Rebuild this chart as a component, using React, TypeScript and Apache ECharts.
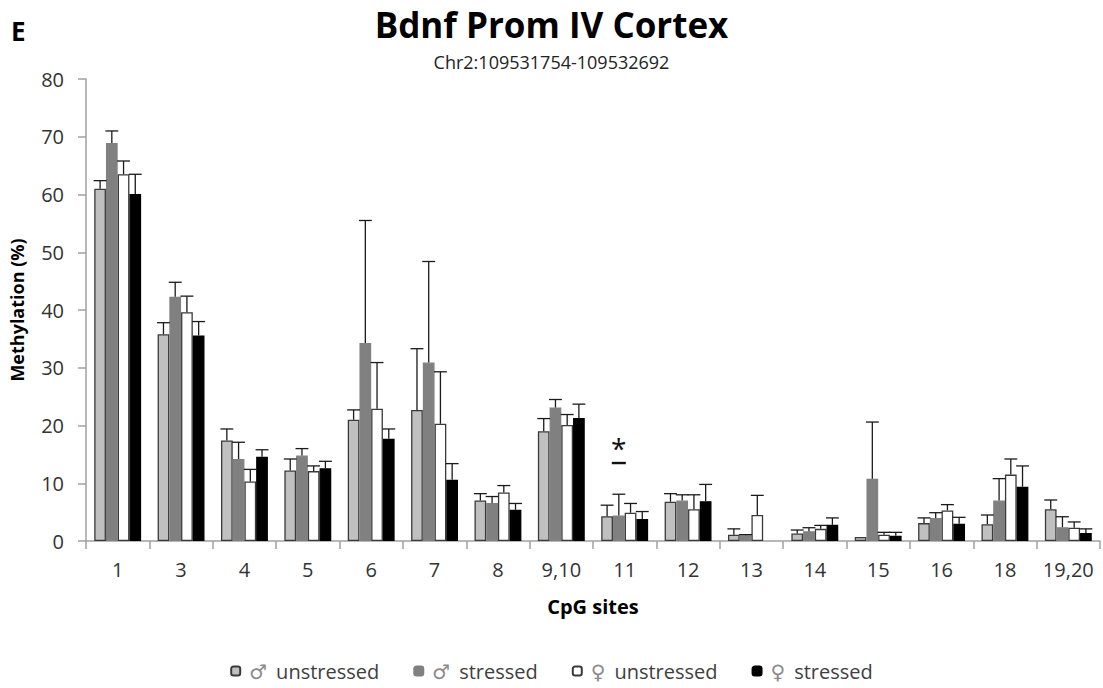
import React, { useEffect, useRef } from "react";
import * as echarts from "echarts";

// CpG site labels along the promoter
const sites = ["1", "3", "4", "5", "6", "7", "8", "9,10", "11", "12", "13", "14", "15", "16", "18", "19,20"];

const groupSymbols = ["♂", "♂", "♀", "♀"];
const groupLabels = ["unstressed", "stressed", "unstressed", "stressed"];
const groupNames = groupSymbols.map((s, i) => `${s} ${groupLabels[i]}`);
const groupColors = ["#c0c0c0", "#808080", "#ffffff", "#000000"];
const groupBorders = ["#3a3a3a", "#808080", "#3a3a3a", "#000000"];

// Mean methylation (%) per group (null = no measurement)
const maleUnstressed = [61.0, 35.8, 17.4, 12.2, 21.0, 22.7, 7.0, 19.0, 4.3, 6.8, 1.1, 1.3, 0.7, 3.1, 2.9, 5.5];
const maleStressed = [68.9, 42.3, 14.2, 14.8, 34.3, 30.9, 6.6, 23.1, 4.4, 7.0, 1.0, 1.7, 10.8, 4.0, 7.0, 2.4];
const femaleUnstressed = [63.5, 39.6, 10.3, 12.1, 22.9, 20.3, 8.4, 20.1, 4.9, 5.5, 4.5, 2.1, 1.1, 5.3, 11.5, 2.3];
const femaleStressed = [60.1, 35.6, 14.6, 12.6, 17.7, 10.6, 5.4, 21.3, 3.8, 6.9, null, 2.8, 0.9, 3.0, 9.4, 1.4];

// Upper end of the error bar (mean + error)
const maleUnstressedErr = [62.4, 37.8, 19.4, 14.2, 22.7, 33.3, 8.2, 21.2, 6.2, 8.2, 2.1, 1.9, 0.7, 4.0, 4.5, 7.1];
const maleStressedErr = [71.0, 44.8, 17.1, 16.0, 55.5, 48.4, 7.7, 24.5, 8.1, 8.0, 1.1, 2.3, 20.6, 4.9, 10.8, 4.2];
const femaleUnstressedErr = [65.8, 42.4, 12.4, 13.0, 30.9, 29.3, 9.6, 21.9, 6.5, 8.0, 7.9, 2.7, 1.5, 6.3, 14.2, 3.3];
const femaleStressedErr = [63.5, 38.0, 15.8, 13.8, 19.4, 13.4, 6.5, 23.7, 5.1, 9.8, null, 4.0, 1.5, 4.1, 13.0, 2.1];

// Significance marker: site, group index, dash value, star value
const sigSite = "11";
const sigGroup = 1;
const sigDash = 13.5;
const sigStar = 16.1;

const means = [maleUnstressed, maleStressed, femaleUnstressed, femaleStressed];
const errs = [maleUnstressedErr, maleStressedErr, femaleUnstressedErr, femaleStressedErr];

const CATEGORY_GAP = 0.26;
const FONT = "'Open Sans', 'DejaVu Sans', sans-serif";

function barCenter(api: any, cat: number, value: number, group: number) {
  const p = api.coord([cat, value]);
  const band = api.size([1, 0])[0];
  const groupW = band * (1 - CATEGORY_GAP);
  const bw = groupW / 4;
  return [p[0] - groupW / 2 + bw * (group + 0.5), p[1], bw];
}

export default function App() {
  const ref = useRef<HTMLDivElement>(null);

  useEffect(() => {
    if (!ref.current) return;
    const chart = echarts.init(ref.current, undefined, { renderer: "svg" });

    const errData: number[][] = [];
    for (let g = 0; g < 4; g++) {
      for (let i = 0; i < sites.length; i++) {
        const m = means[g][i];
        const e = errs[g][i];
        if (m != null && e != null && e > m) errData.push([i, g, m, e]);
      }
    }

    const barSeries = groupNames.map((name, g) => ({
      name,
      type: "bar",
      data: means[g].map((v) => (v == null ? "-" : v)),
      barGap: "0%",
      barCategoryGap: `${CATEGORY_GAP * 100}%`,
      itemStyle: { color: groupColors[g], borderColor: groupBorders[g], borderWidth: 1.3 },
      z: 2,
    }));

    chart.setOption({
      animation: false,
      textStyle: { fontFamily: FONT },
      title: {
        text: "Bdnf Prom IV Cortex",
        subtext: "Chr2:109531754-109532692",
        left: "center",
        top: 2,
        itemGap: 11,
        textStyle: { fontSize: 35, fontWeight: "bold", color: "#000", fontFamily: FONT },
        subtextStyle: { fontSize: 18, color: "#222", fontFamily: FONT },
      },
      legend: {
        bottom: 2,
        left: "center",
        itemWidth: 9,
        itemHeight: 9,
        itemGap: 34,
        data: groupNames,
        formatter: (name: string) => {
          const i = groupNames.indexOf(name);
          return `{sym|${groupSymbols[i]}}{txt|${groupLabels[i]}}`;
        },
        textStyle: {
          fontSize: 20,
          color: "#404040",
          fontFamily: FONT,
          rich: {
            sym: { fontSize: 20, color: "#8a8a8a", fontFamily: FONT, padding: [0, 9, 0, 4] },
            txt: { fontSize: 20, color: "#404040", fontFamily: FONT },
          },
        },
      },
      grid: { left: 85, right: 3, top: 79, bottom: 147 },
      xAxis: {
        type: "category",
        data: sites,
        name: "CpG sites",
        nameLocation: "middle",
        nameGap: 55,
        nameTextStyle: { fontSize: 20, fontWeight: "bold", color: "#000" },
        axisLine: { lineStyle: { color: "#a0a0a0", width: 1.5 } },
        axisTick: { show: true, length: 8, lineStyle: { color: "#a0a0a0", width: 1.5 } },
        axisLabel: { fontSize: 20, color: "#333", margin: 18, interval: 0 },
      },
      yAxis: {
        type: "value",
        min: 0,
        max: 80,
        interval: 10,
        name: "Methylation (%)",
        nameLocation: "middle",
        nameGap: 60,
        nameTextStyle: { fontSize: 18, fontWeight: "bold", color: "#000" },
        splitLine: { show: false },
        axisLine: { show: true, lineStyle: { color: "#a0a0a0", width: 1.5 } },
        axisTick: { show: true, length: 8, lineStyle: { color: "#a0a0a0", width: 1.5 } },
        axisLabel: { fontSize: 20, color: "#333", margin: 22 },
      },
      graphic: [
        {
          type: "text",
          x: 11,
          y: 31,
          style: {
            text: "E",
            fontSize: 26,
            fontWeight: "bold",
            fill: "#000",
            fontFamily: FONT,
            verticalAlign: "middle",
          },
        },
      ],
      series: [
        ...barSeries,
        {
          type: "custom",
          name: "errors",
          z: 5,
          silent: true,
          data: errData,
          encode: { x: 0, y: 3 },
          renderItem: (_params: any, api: any) => {
            const cat = api.value(0);
            const g = api.value(1);
            const [x, y0, bw] = barCenter(api, cat, api.value(2), g);
            const y1 = api.coord([cat, api.value(3)])[1];
            const half = bw * 0.55;
            const style = { stroke: "#1a1a1a", lineWidth: 1.3 };
            return {
              type: "group",
              children: [
                { type: "line", shape: { x1: x, y1: y0, x2: x, y2: y1 }, style },
                { type: "line", shape: { x1: x - half, y1: y1, x2: x + half, y2: y1 }, style },
              ],
            };
          },
        },
        {
          type: "custom",
          name: "significance",
          z: 5,
          silent: true,
          data: [[sites.indexOf(sigSite), sigGroup, sigDash, sigStar]],
          encode: { x: 0, y: 3 },
          renderItem: (_params: any, api: any) => {
            const cat = api.value(0);
            const g = api.value(1);
            const [x, yd] = barCenter(api, cat, api.value(2), g);
            const ys = api.coord([cat, api.value(3)])[1];
            return {
              type: "group",
              children: [
                { type: "line", shape: { x1: x - 7, y1: yd, x2: x + 7, y2: yd }, style: { stroke: "#111", lineWidth: 2.4 } },
                {
                  type: "text",
                  x: x,
                  y: ys,
                  style: { text: "*", fontSize: 28, fill: "#111", align: "center", verticalAlign: "middle", fontFamily: FONT },
                },
              ],
            };
          },
        },
      ],
    });

    return () => chart.dispose();
  }, []);

  return <div ref={ref} style={{ position: "absolute", left: 0, top: 0, width: 1103, height: 688 }} />;
}
